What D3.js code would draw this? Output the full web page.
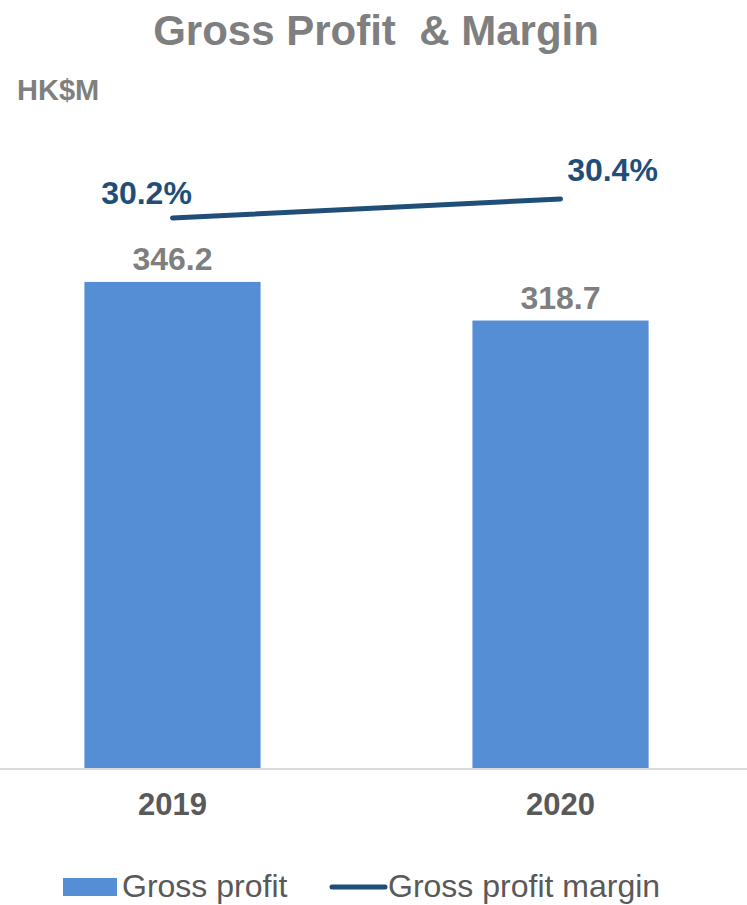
<!DOCTYPE html>
<html>
<head>
<meta charset="utf-8">
<script src="https://cdn.jsdelivr.net/npm/d3@7"></script>
<style>
    body { margin: 0; background: #ffffff; }
    svg { display: block; font-family: "Liberation Sans", Arial, sans-serif; }
    .title { white-space: pre; }
</style>
</head>
<body>
<svg id="chart" width="747" height="905"></svg>
<script>
var years = ["2019", "2020"];
var grossProfit = [346.2, 318.7]; // HK$M
var grossMargin = [30.2, 30.4]; // %
var legendLabels = ["Gross profit", "Gross profit margin"];

var barColor = "#558ED5";
var lineColor = "#1F4E79";

const svg = d3.select('#chart');

// title + unit
svg.append('text')
    .attr('class', 'title')
    .attr('x', 376).attr('y', 45)
    .attr('text-anchor', 'middle')
    .attr('font-size', 42).attr('font-weight', 'bold')
    .attr('fill', '#7F7F7F')
    .text("Gross Profit  & Margin");

svg.append('text')
    .attr('x', 17).attr('y', 100)
    .attr('font-size', 29).attr('font-weight', 'bold')
    .attr('fill', '#7F7F7F')
    .text("HK$M");

let xScale = d3.scaleBand()
    .domain(years)
    .range([-7, 740])
    .paddingInner(0.546)
    .paddingOuter(0.2356);

let yScale = d3.scaleLinear().domain([0, 400]).range([768, 206.4]);
let yMargin = d3.scaleLinear().domain([28, 32]).range([427, 47]);

// bars
svg.selectAll('.bar')
    .data(years)
    .enter()
    .append('rect')
    .attr('class', 'bar')
    .attr('x', d => xScale(d))
    .attr('width', xScale.bandwidth())
    .attr('y', (d, i) => yScale(grossProfit[i]))
    .attr('height', (d, i) => yScale(0) - yScale(grossProfit[i]))
    .attr('fill', barColor);

// baseline
let axisBottom = d3.axisBottom(xScale).tickSize(0).tickPadding(24);
const gx = svg.append('g')
    .attr('transform', 'translate(0, ' + 769 + ')')
    .call(axisBottom);
gx.select('.domain').remove();
gx.append('line')
    .attr('x1', 0).attr('x2', 747)
    .attr('y1', 0).attr('y2', 0)
    .attr('stroke', '#D9D9D9').attr('stroke-width', 2);
gx.selectAll('.tick text')
    .attr('font-size', 31).attr('font-weight', 'bold')
    .attr('font-family', '"Liberation Sans", Arial, sans-serif')
    .attr('fill', '#595959')
    .attr('dy', '0.71em');

// value labels
svg.selectAll('.val')
    .data(years)
    .enter()
    .append('text')
    .attr('class', 'val')
    .attr('x', d => xScale(d) + xScale.bandwidth() / 2)
    .attr('y', (d, i) => yScale(grossProfit[i]) - 12)
    .attr('text-anchor', 'middle')
    .attr('font-size', 32).attr('font-weight', 'bold')
    .attr('fill', '#7F7F7F')
    .text((d, i) => grossProfit[i].toFixed(1));

// margin line
var cx = d => xScale(d) + xScale.bandwidth() / 2;
var line = d3.line()
    .x(d => cx(d))
    .y((d, i) => yMargin(grossMargin[i]));
svg.append('path')
    .datum(years)
    .attr('d', line)
    .attr('fill', 'none')
    .attr('stroke', lineColor)
    .attr('stroke-width', 5)
    .attr('stroke-linecap', 'round');

// margin labels sit up-left for the first point, up-right for the last one
var labelShift = [[-26, -14], [52, -18]];
svg.selectAll('.pct')
    .data(years)
    .enter()
    .append('text')
    .attr('class', 'pct')
    .attr('x', (d, i) => cx(d) + labelShift[i][0])
    .attr('y', (d, i) => yMargin(grossMargin[i]) + labelShift[i][1])
    .attr('text-anchor', 'middle')
    .attr('font-size', 32).attr('font-weight', 'bold')
    .attr('fill', lineColor)
    .text((d, i) => grossMargin[i].toFixed(1) + "%");

// legend (pulled up a little so the descenders stay inside the frame)
const lg = svg.append('g');
lg.append('rect')
    .attr('x', 63).attr('y', 878)
    .attr('width', 54).attr('height', 18)
    .attr('fill', barColor);
lg.append('text')
    .attr('x', 122).attr('y', 897)
    .attr('font-size', 32).attr('fill', '#595959')
    .text(legendLabels[0]);
lg.append('line')
    .attr('x1', 332).attr('x2', 385)
    .attr('y1', 887).attr('y2', 887)
    .attr('stroke', lineColor).attr('stroke-width', 5)
    .attr('stroke-linecap', 'round');
lg.append('text')
    .attr('x', 388).attr('y', 897)
    .attr('font-size', 32).attr('fill', '#595959')
    .text(legendLabels[1]);
</script>
</body>
</html>
